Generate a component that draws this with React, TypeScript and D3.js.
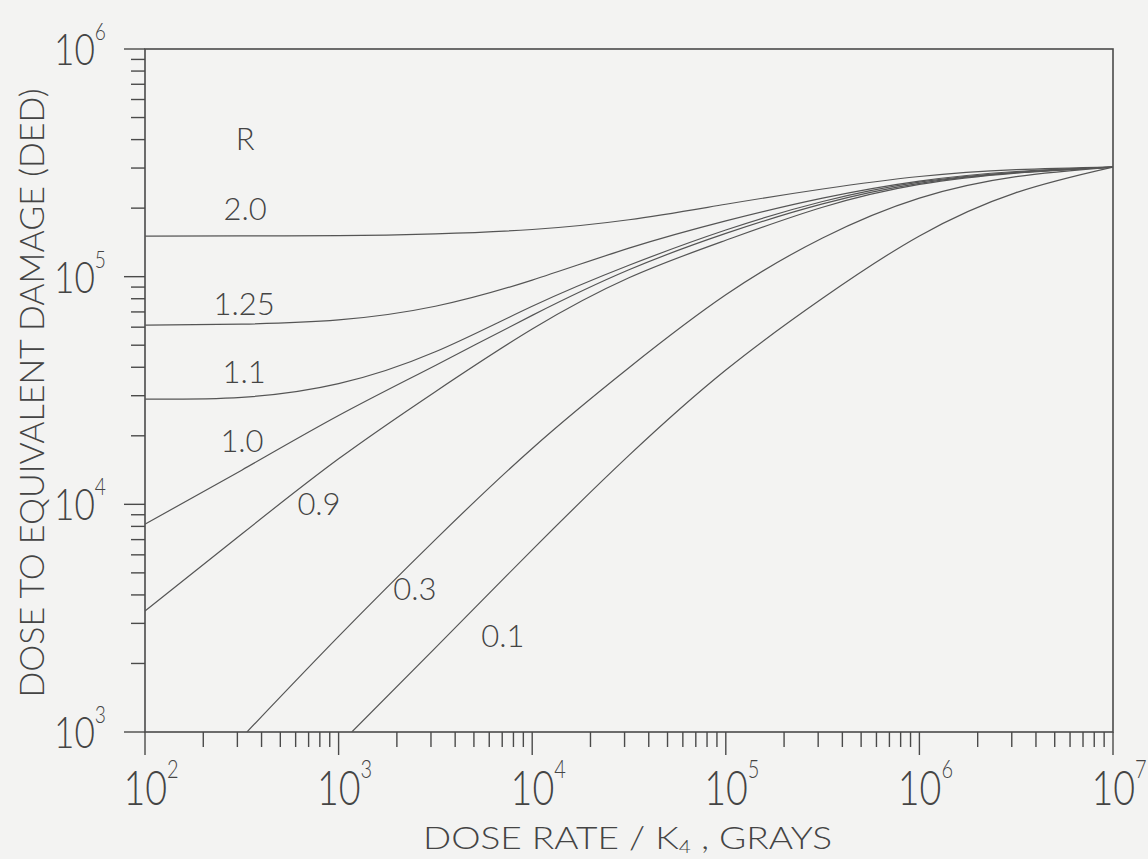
import React from 'react';
import * as d3 from 'd3';

// dose rate / K4 (grays) — half-decade grid used by the upper curves
const doseRates = [1e2, 3.16e2, 1e3, 3.16e3, 1e4, 3.16e4, 1e5, 3.16e5, 1e6, 3.16e6, 1e7];
const doseRatesR03 = [3.36e2, 1e3, 3.16e3, 1e4, 3.16e4, 1e5, 3.16e5, 1e6, 3.16e6, 1e7];
const doseRatesR01 = [1.17e3, 3.16e3, 1e4, 3.16e4, 1e5, 3.16e5, 1e6, 3.16e6, 1e7];

// dose to equivalent damage (DED), one array per R
const dedR20 = [1.507e5, 1.51e5, 1.514e5, 1.542e5, 1.611e5, 1.778e5, 2.08e5, 2.427e5, 2.754e5, 2.951e5, 3.03e5];
const dedR125 = [6.12e4, 6.19e4, 6.457e4, 7.413e4, 9.661e4, 1.334e5, 1.758e5, 2.213e5, 2.63e5, 2.897e5, 3.03e5];
const dedR11 = [2.897e4, 2.951e4, 3.388e4, 4.677e4, 7.413e4, 1.122e5, 1.603e5, 2.138e5, 2.6e5, 2.871e5, 3.03e5];
const dedR10 = [8.18e3, 1.413e4, 2.455e4, 4.074e4, 6.761e4, 1.072e5, 1.549e5, 2.089e5, 2.57e5, 2.864e5, 3.03e5];
const dedR09 = [3.4e3, 7.41e3, 1.585e4, 3.126e4, 5.888e4, 9.886e4, 1.445e5, 2.018e5, 2.541e5, 2.851e5, 3.03e5];
const dedR03 = [1e3, 2.63e3, 7.0e3, 1.76e4, 3.98e4, 8.32e4, 1.479e5, 2.213e5, 2.75e5, 3.03e5];
const dedR01 = [1e3, 2.34e3, 6.31e3, 1.64e4, 3.89e4, 8.04e4, 1.51e5, 2.34e5, 3.03e5];

// curve labels (text, dose rate, DED at baseline)
const labelText = ['R', '2.0', '1.25', '1.1', '1.0', '0.9', '0.3', '0.1'];
const labelX = [329, 329, 325, 325, 317, 792, 2.48e3, 7.06e3];
const labelY = [3.6e5, 1.77e5, 6.78e4, 3.41e4, 1.7e4, 8.97e3, 3.8e3, 2.36e3];

const xDecades = [2, 3, 4, 5, 6, 7];
const yDecades = [3, 4, 5, 6];

const W = 1148;
const H = 859;
const left = 145, right = 1113, top = 49, bottom = 732;
const ink = '#4a4a4a';
const textInk = '#444';
const font = 'Lato, "Open Sans", "Liberation Sans", sans-serif';

export default function App() {
  const x = d3.scaleLog().domain([1e2, 1e7]).range([left, right]);
  const y = d3.scaleLog().domain([1e3, 1e6]).range([bottom, top]);

  const curves = [
    { xs: doseRates, ys: dedR20 },
    { xs: doseRates, ys: dedR125 },
    { xs: doseRates, ys: dedR11 },
    { xs: doseRates, ys: dedR10 },
    { xs: doseRates, ys: dedR09 },
    { xs: doseRatesR03, ys: dedR03 },
    { xs: doseRatesR01, ys: dedR01 },
  ];

  const line = d3.line<[number, number]>()
    .x(d => x(d[0]))
    .y(d => y(d[1]))
    .curve(d3.curveNatural);

  // minor + major tick values
  const xTicks: number[] = [];
  xDecades.slice(0, -1).forEach(d => d3.range(1, 10).forEach(k => xTicks.push(k * Math.pow(10, d))));
  xTicks.push(1e7);
  const yTicks: number[] = [];
  yDecades.slice(0, -1).forEach(d => d3.range(1, 10).forEach(k => yTicks.push(k * Math.pow(10, d))));
  yTicks.push(1e6);
  const isMajor = (v: number) => Math.abs(Math.log10(v) - Math.round(Math.log10(v))) < 1e-9;

  return (
    <svg width={W} height={H} style={{ position: 'absolute', left: 0, top: 0, background: '#f3f3f2' }}
      fontFamily={font}>
      <defs>
        <clipPath id="plot">
          <rect x={left} y={top} width={right - left} height={bottom - top} />
        </clipPath>
      </defs>

      {/* frame */}
      <rect x={left} y={top} width={right - left} height={bottom - top} fill="none" stroke={ink} strokeWidth={1.6} />

      {/* x ticks, pointing down */}
      {xTicks.map((t, i) => (
        <line key={'xt' + i} x1={x(t)} x2={x(t)} y1={bottom} y2={bottom + (isMajor(t) ? 23 : 15)}
          stroke={ink} strokeWidth={1.4} />
      ))}
      {/* y ticks, pointing left */}
      {yTicks.map((t, i) => (
        <line key={'yt' + i} x1={left} x2={left - (isMajor(t) ? 21 : 14)} y1={y(t)} y2={y(t)}
          stroke={ink} strokeWidth={1.4} />
      ))}

      {/* x tick labels */}
      {xDecades.map(d => {
        const px = x(Math.pow(10, d));
        return (
          <g key={'xl' + d} transform={`translate(${px},805) scale(0.8,1)`} fill={textInk}>
            <text x={-27} y={0} fontSize={47} fontWeight={300}>
              10<tspan dy={-27} fontSize={25}>{d}</tspan>
            </text>
          </g>
        );
      })}
      {/* y tick labels */}
      {yDecades.map(d => {
        const py = y(Math.pow(10, d));
        return (
          <g key={'yl' + d} transform={`translate(106,${py + 16}) scale(0.8,1)`} fill={textInk}>
            <text x={0} y={0} fontSize={44} fontWeight={300} textAnchor="end">
              10<tspan dy={-25} fontSize={24}>{d}</tspan>
            </text>
          </g>
        );
      })}

      {/* curves */}
      <g clipPath="url(#plot)">
        {curves.map((c, i) => (
          <path key={'c' + i}
            d={line(c.xs.map((v, j) => [v, c.ys[j]] as [number, number])) || ''}
            fill="none" stroke="#555" strokeWidth={1.2} />
        ))}
      </g>

      {/* curve labels */}
      {labelText.map((t, i) => (
        <text key={'lb' + i} x={x(labelX[i])} y={y(labelY[i])} textAnchor="middle"
          fontSize={31} fontWeight={300} fill={textInk}>{t}</text>
      ))}

      {/* axis titles */}
      <text transform="translate(44,393) rotate(-90)" textAnchor="middle" fontSize={33} fontWeight={300}
        fill={textInk} textLength={609} lengthAdjust="spacingAndGlyphs">
        DOSE TO EQUIVALENT DAMAGE  (DED)
      </text>
      <text x={423} y={849} fontSize={32} fontWeight={300} fill={textInk}
        textLength={409} lengthAdjust="spacingAndGlyphs">
        DOSE RATE / K<tspan dy={4} fontSize={18}>4</tspan><tspan dy={-4}> , GRAYS</tspan>
      </text>
    </svg>
  );
}
